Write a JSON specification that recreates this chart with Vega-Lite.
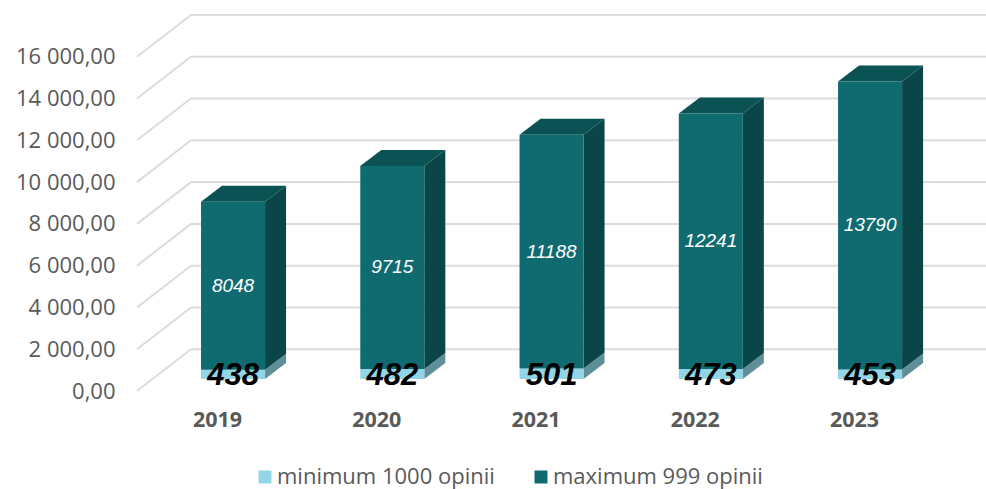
{
"$schema":"https://vega.github.io/schema/vega-lite/v6.json",
"width":849,"height":376,
"autosize":{"type":"none"},
"padding":{"left":137,"top":15,"right":0,"bottom":98},
"background":"white",
"config":{"view":{"stroke":null}},
"resolve":{"scale":{"color":"independent"}},
"layer":[
{"data":{"values":[{"tick":0},{"tick":2000},{"tick":4000},{"tick":6000},{"tick":8000},{"tick":10000},{"tick":12000},{"tick":14000},{"tick":16000}]},
 "transform":[{"calculate":"datum.tick+2000","as":"tickBack"}],
 "layer":[
 {"mark":{"type":"rule","color":"#dcdcdc","strokeWidth":2},
  "encoding":{"x":{"datum":2018.397,"type":"quantitative","title":null,"scale":{"domain":[2018.397,2023.728]},"axis":{"values":[2019,2020,2021,2022,2023],"format":"d","title":null,"grid":false,"domain":false,"ticks":false,"labelOffset":-16,"labelPadding":18,"labelFont":"Open Sans","labelFontWeight":"bold","labelFontSize":21.5,"labelColor":"#595959","labelAngle":0,"labelFlush":false,"labelOverlap":false}},
   "x2":{"datum":2018.736},
   "y":{"field":"tick","type":"quantitative","title":null,"scale":{"domain":[0,18000]},"axis":{"values":[0,2000,4000,6000,8000,10000,12000,14000,16000],"title":null,"grid":false,"domain":false,"ticks":false,"labelPadding":22,"labelFont":"Open Sans","labelFontSize":22,"labelColor":"#595959","labelExpr":"replace(replace(format(datum.value,',.2f'),',',' '),'.',',')"}},
   "y2":{"field":"tickBack"}}},
 {"mark":{"type":"rule","color":"#dcdcdc","strokeWidth":2},
  "encoding":{"x":{"datum":2018.736,"type":"quantitative","title":null,"scale":{"domain":[2018.397,2023.728]}},
   "x2":{"datum":2023.728},
   "y":{"field":"tickBack","type":"quantitative","title":null,"scale":{"domain":[0,18000]}}}}
 ]},
{"data":{"values":[
 {"year":2019,"series":"minimum 1000 opinii","value":438},{"year":2019,"series":"maximum 999 opinii","value":8048},
 {"year":2020,"series":"minimum 1000 opinii","value":482},{"year":2020,"series":"maximum 999 opinii","value":9715},
 {"year":2021,"series":"minimum 1000 opinii","value":501},{"year":2021,"series":"maximum 999 opinii","value":11188},
 {"year":2022,"series":"minimum 1000 opinii","value":473},{"year":2022,"series":"maximum 999 opinii","value":12241},
 {"year":2023,"series":"minimum 1000 opinii","value":453},{"year":2023,"series":"maximum 999 opinii","value":13790}]},
 "transform":[
  {"stack":"value","groupby":["year"],"sort":[{"field":"series","order":"descending"}],"as":["s0","s1"]},
  {"calculate":"datum.s0+575","as":"b0"},
  {"calculate":"datum.s1+575","as":"b1"},
  {"calculate":"(datum.b0+datum.b1)/2","as":"mid"},
  {"calculate":"datum.year-0.201","as":"xl"},
  {"calculate":"datum.year+0.201","as":"xr"}],
 "resolve":{"scale":{"color":"independent"}},
 "layer":[
 {"transform":[
   {"calculate":"datum.xr+0.132","as":"xb"},
   {"fold":["xr","xb"],"as":["corner","xpos"]},
   {"calculate":"datum.b0+(datum.corner=='xb'?766:0)","as":"sLow"},
   {"calculate":"datum.b1+(datum.corner=='xb'?766:0)","as":"sHigh"}],
  "mark":{"type":"area","orient":"vertical","interpolate":"linear"},
  "encoding":{"x":{"field":"xpos","type":"quantitative","title":null,"scale":{"domain":[2018.397,2023.728]}},
   "y":{"field":"sLow","type":"quantitative","title":null,"scale":{"domain":[0,18000]},"stack":null},
   "y2":{"field":"sHigh"},
   "detail":{"field":"year"},
   "color":{"field":"series","type":"nominal","legend":null,"scale":{"domain":["minimum 1000 opinii","maximum 999 opinii"],"range":["#5f8f99","#0a4648"]}}}},
 {"transform":[
   {"filter":"datum.series=='maximum 999 opinii'"},
   {"calculate":"datum.b1","as":"yFront"},
   {"calculate":"datum.b1+766","as":"yBack"},
   {"fold":["yFront","yBack"],"as":["edge","ypos"]},
   {"calculate":"datum.xl+(datum.edge=='yBack'?0.132:0)","as":"tl"},
   {"calculate":"datum.xr+(datum.edge=='yBack'?0.132:0)","as":"tr"}],
  "mark":{"type":"area","orient":"horizontal","color":"#0a5254","interpolate":"linear"},
  "encoding":{"y":{"field":"ypos","type":"quantitative","title":null,"scale":{"domain":[0,18000]},"stack":null},
   "x":{"field":"tl","type":"quantitative","title":null,"scale":{"domain":[2018.397,2023.728]}},
   "x2":{"field":"tr"},
   "detail":{"field":"year"}}},
 {"mark":{"type":"rect"},
  "encoding":{"x":{"field":"xl","type":"quantitative","title":null,"scale":{"domain":[2018.397,2023.728]}},
   "x2":{"field":"xr"},
   "y":{"field":"b0","type":"quantitative","title":null,"scale":{"domain":[0,18000]}},
   "y2":{"field":"b1"},
   "color":{"field":"series","type":"nominal","scale":{"domain":["minimum 1000 opinii","maximum 999 opinii"],"range":["#92d5e6","#0f6b70"]},
    "legend":{"orient":"none","direction":"horizontal","legendX":117,"legendY":451,"title":null,"symbolType":"square","symbolSize":169,"symbolStrokeWidth":0,"symbolOpacity":1,"labelFont":"Open Sans","labelFontSize":22,"labelColor":"#595959","columnPadding":35,"labelOffset":1,"labelLimit":300,"padding":0}}}},
 {"transform":[{"filter":"datum.series=='maximum 999 opinii'"}],
  "mark":{"type":"text","color":"white","font":"Liberation Sans","fontStyle":"italic","fontSize":19,"baseline":"middle"},
  "encoding":{"x":{"field":"year","type":"quantitative","title":null,"scale":{"domain":[2018.397,2023.728]}},
   "y":{"field":"mid","type":"quantitative","title":null,"scale":{"domain":[0,18000]}},
   "text":{"field":"value","type":"quantitative","format":"d"}}},
 {"transform":[{"filter":"datum.series=='minimum 1000 opinii'"}],
  "mark":{"type":"text","color":"black","font":"Liberation Sans","fontStyle":"italic","fontWeight":"bold","fontSize":31,"baseline":"middle","dy":2},
  "encoding":{"x":{"field":"year","type":"quantitative","title":null,"scale":{"domain":[2018.397,2023.728]}},
   "y":{"field":"mid","type":"quantitative","title":null,"scale":{"domain":[0,18000]}},
   "text":{"field":"value","type":"quantitative","format":"d"}}}
 ]}
]}
